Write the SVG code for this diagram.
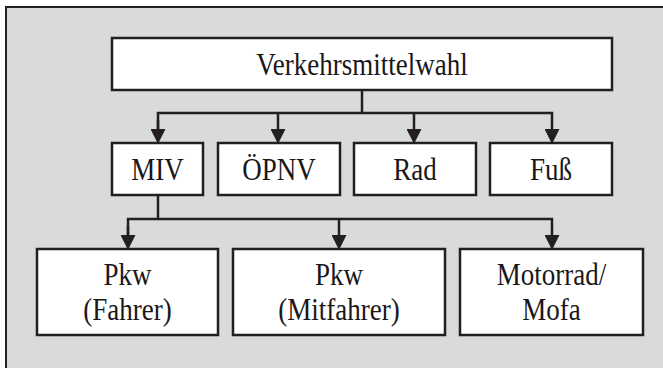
<svg xmlns="http://www.w3.org/2000/svg" width="663" height="368" viewBox="0 0 663 368">
  <style>
    .frame { fill: #d9dadc; stroke: #231f20; stroke-width: 2; }
    .box { fill: #ffffff; stroke: #231f20; stroke-width: 2.5; }
    .lbl { font-family: "Liberation Serif", "Times New Roman", serif; font-size: 27px; fill: #1a1718; text-anchor: middle; }
    .wire { fill: none; stroke: #231f20; stroke-width: 2.5; stroke-linejoin: miter; }
  </style>
  <defs>
    <marker id="arrow" markerUnits="userSpaceOnUse" markerWidth="15" markerHeight="15" refX="0" refY="7" orient="auto" viewBox="0 0 14 14">
      <path d="M0,0 L14,7 L0,14 z" fill="#231f20"/>
    </marker>
  </defs>

  <rect width="663" height="368" fill="#ffffff"/>
  <rect class="frame" x="6" y="7" width="700" height="420"/>

  <g id="connectors">
    <path class="wire" d="M362,90 V113"/>
    <path class="wire" d="M158,129 V113 H552 V129" marker-end="url(#arrow)"/>
    <path class="wire" d="M158,120 V129" marker-end="url(#arrow)"/>
    <path class="wire" d="M278,113 V129" marker-end="url(#arrow)"/>
    <path class="wire" d="M414,113 V129" marker-end="url(#arrow)"/>
    <path class="wire" d="M158,195 V219"/>
    <path class="wire" d="M128,235 V219 H552 V235" marker-end="url(#arrow)"/>
    <path class="wire" d="M128,226 V235" marker-end="url(#arrow)"/>
    <path class="wire" d="M339,219 V235" marker-end="url(#arrow)"/>
  </g>

  <!-- labels are set slightly tall: each text is scaled 1.2 vertically about its baseline -->
  <g id="verkehrsmittelwahl">
    <rect class="box" x="112" y="38" width="500" height="52"/>
    <text class="lbl" x="362" y="0" transform="translate(0,75) scale(1,1.2)">Verkehrsmittelwahl</text>
  </g>

  <g id="miv">
    <rect class="box" x="112" y="143" width="91" height="52"/>
    <text class="lbl" x="157.5" y="0" transform="translate(0,180) scale(1,1.2)">MIV</text>
  </g>
  <g id="oepnv">
    <rect class="box" x="218" y="143" width="122" height="52"/>
    <text class="lbl" x="279" y="0" transform="translate(0,180) scale(1,1.2)">ÖPNV</text>
  </g>
  <g id="rad">
    <rect class="box" x="354" y="143" width="122" height="52"/>
    <text class="lbl" x="415" y="0" transform="translate(0,180) scale(1,1.2)">Rad</text>
  </g>
  <g id="fuss">
    <rect class="box" x="490" y="143" width="122" height="52"/>
    <text class="lbl" x="551" y="0" transform="translate(0,180) scale(1,1.2)">Fuß</text>
  </g>

  <g id="pkw-fahrer">
    <rect class="box" x="37" y="249" width="181" height="86"/>
    <text class="lbl" x="127.5" y="0" transform="translate(0,285) scale(1,1.2)">Pkw</text>
    <text class="lbl" x="127.5" y="0" transform="translate(0,320) scale(1,1.2)">(Fahrer)</text>
  </g>
  <g id="pkw-mitfahrer">
    <rect class="box" x="233" y="249" width="212" height="86"/>
    <text class="lbl" x="339" y="0" transform="translate(0,285) scale(1,1.2)">Pkw</text>
    <text class="lbl" x="339" y="0" transform="translate(0,320) scale(1,1.2)">(Mitfahrer)</text>
  </g>
  <g id="motorrad-mofa">
    <rect class="box" x="460" y="249" width="183" height="86"/>
    <text class="lbl" x="551.5" y="0" transform="translate(0,285) scale(1,1.2)">Motorrad/</text>
    <text class="lbl" x="551.5" y="0" transform="translate(0,320) scale(1,1.2)">Mofa</text>
  </g>
</svg>
